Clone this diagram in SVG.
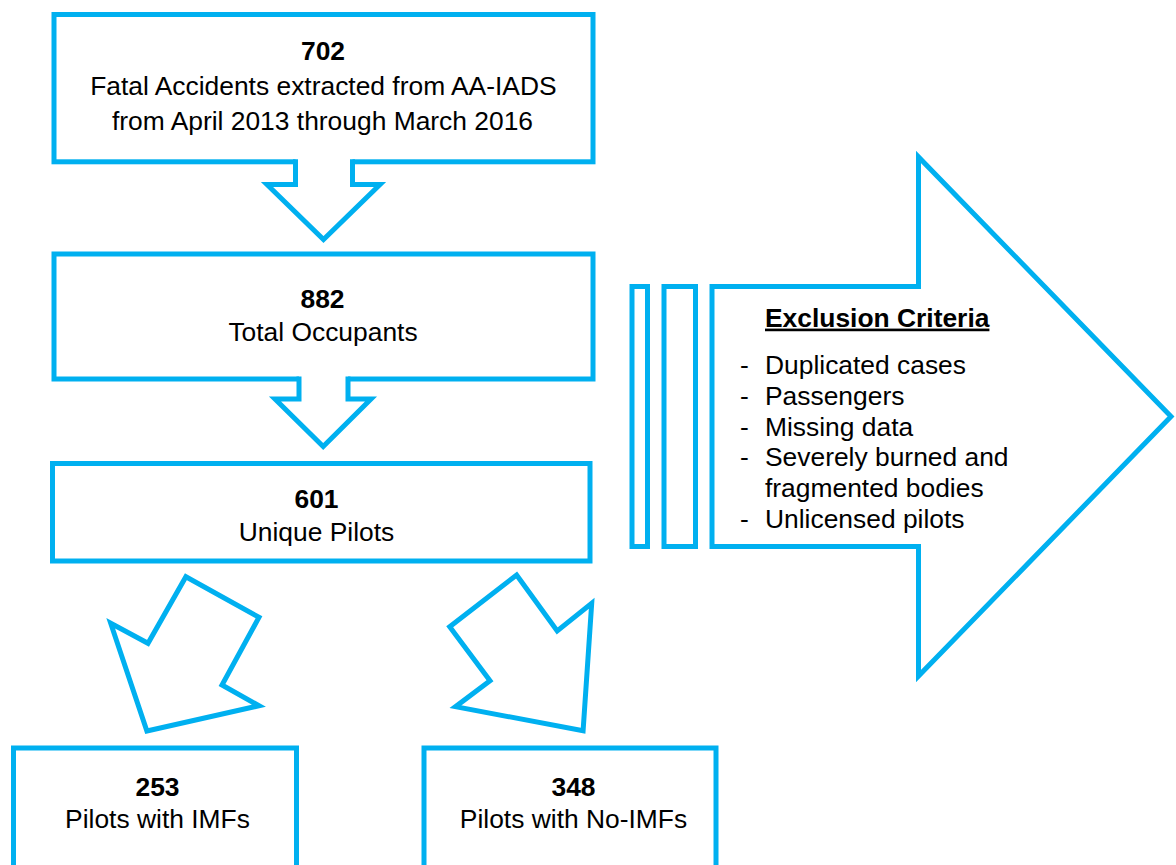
<svg xmlns="http://www.w3.org/2000/svg" width="1176" height="865" viewBox="0 0 1176 865">
  <style>
    .box { fill: #FFFFFF; stroke: #00B0F0; stroke-width: 5; stroke-linejoin: miter; stroke-miterlimit: 10; }
    .outline { fill: none; stroke: #00B0F0; stroke-width: 5; stroke-linejoin: miter; stroke-miterlimit: 10; }
    .cover { fill: #FFFFFF; stroke: none; }
    .t { font-family: "Liberation Sans", Arial, sans-serif; font-size: 26.4px; fill: #000000; }
    .c { text-anchor: middle; }
    .b { font-weight: bold; }
  </style>
  <rect x="0" y="0" width="1176" height="865" fill="#FFFFFF"/>

  <g id="node-702">
    <rect class="box" x="54" y="14.5" width="539" height="147.3"/>
    <text class="t c b" x="323" y="60">702</text>
    <text class="t c" x="323.4" y="95">Fatal Accidents extracted from AA-IADS</text>
    <text class="t c" x="322.5" y="129.5">from April 2013 through March 2016</text>
  </g>

  <g id="node-882">
    <rect class="box" x="54" y="254" width="539" height="125"/>
    <text class="t c b" x="322.5" y="307.5">882</text>
    <text class="t c" x="323" y="341">Total Occupants</text>
  </g>

  <g id="node-601">
    <rect class="box" x="52.5" y="463.5" width="537.5" height="97.5"/>
    <text class="t c b" x="316.5" y="508.3">601</text>
    <text class="t c" x="316.5" y="541">Unique Pilots</text>
  </g>

  <g id="node-253">
    <rect class="box" x="13.5" y="748" width="283" height="140"/>
    <text class="t c b" x="157.5" y="795.7">253</text>
    <text class="t c" x="157.5" y="828.3">Pilots with IMFs</text>
  </g>

  <g id="node-348">
    <rect class="box" x="424" y="748" width="292" height="140"/>
    <text class="t c b" x="573.5" y="795.7">348</text>
    <text class="t c" x="573.5" y="828.3">Pilots with No-IMFs</text>
  </g>

  <g id="node-exclusion">
    <rect class="box" x="632" y="286.5" width="15.5" height="260"/>
    <rect class="box" x="664" y="286.5" width="31.5" height="260"/>
    <polygon class="box" points="712,286.5 918.5,286.5 918.5,157 1171,416.5 918.5,676 918.5,546.5 712,546.5"/>
    <text class="t b" x="765" y="326.6" text-decoration="underline">Exclusion Criteria</text>
    <text class="t" x="740" y="374">-</text>
    <text class="t" x="765" y="374">Duplicated cases</text>
    <text class="t" x="740" y="404.8">-</text>
    <text class="t" x="765" y="404.8">Passengers</text>
    <text class="t" x="740" y="435.6">-</text>
    <text class="t" x="765" y="435.6">Missing data</text>
    <text class="t" x="740" y="466.4">-</text>
    <text class="t" x="765" y="466.4">Severely burned and</text>
    <text class="t" x="765" y="497.2">fragmented bodies</text>
    <text class="t" x="740" y="528">-</text>
    <text class="t" x="765" y="528">Unlicensed pilots</text>
  </g>

  <g id="connectors">
    <path class="cover" d="M295.5,157 L295.5,184.5 L267,184.5 L323.5,239.5 L380,184.5 L352.5,184.5 L352.5,157 Z"/>
    <path class="outline" d="M295.5,159.3 L295.5,184.5 L267,184.5 L323.5,239.5 L380,184.5 L352.5,184.5 L352.5,159.3"/>

    <path class="cover" d="M299,374 L299,399 L275,399 L323.2,446.5 L371,399 L348,399 L348,374 Z"/>
    <path class="outline" d="M299,376.5 L299,399 L275,399 L323.2,446.5 L371,399 L348,399 L348,376.5"/>

    <polygon class="box" points="185.9,576.7 259,617.3 222,685 259,705.7 146.9,731 110.7,623.3 148,643.3"/>
    <polygon class="box" points="516.6,575 557.2,631 591.7,603.3 583.1,730.7 455.5,706.7 490,680.7 449.7,626.7"/>
  </g>
</svg>
